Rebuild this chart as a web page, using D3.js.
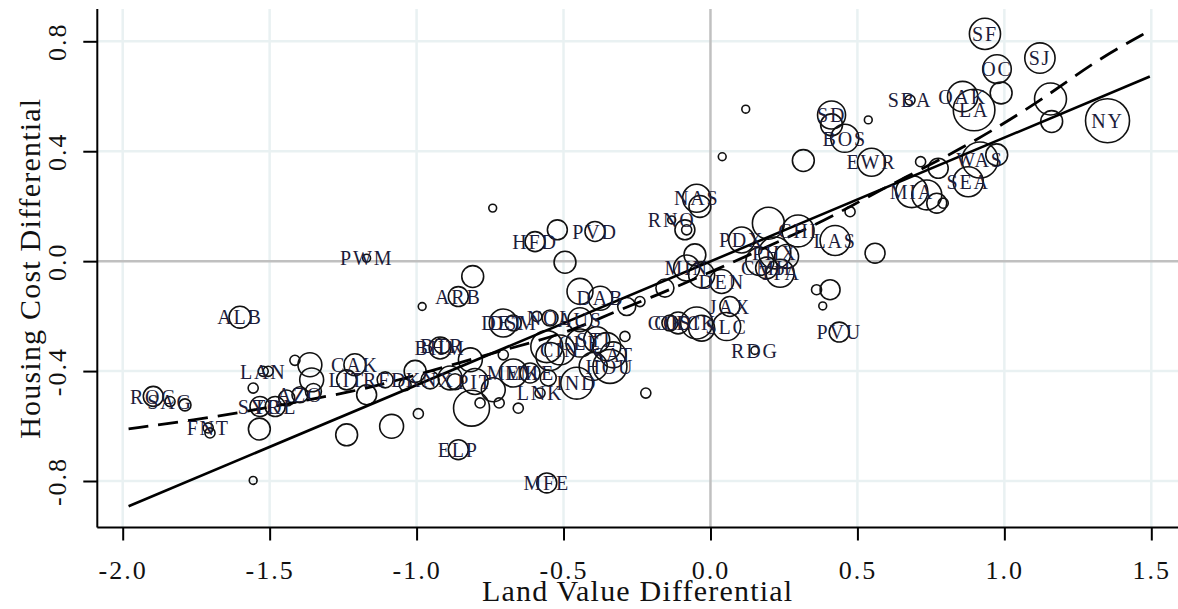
<!DOCTYPE html>
<html>
<head>
<meta charset="utf-8">
<script src="https://cdn.jsdelivr.net/npm/d3@7"></script>
<style>
  body { margin: 0; background: #fff; }
  svg { display: block; }
  .grid line { stroke: #e9f1f2; stroke-width: 2.5; }
  .zero { stroke: #c0c0c0; stroke-width: 2.5; }
  .axis path, .axis line { stroke: #000; stroke-width: 2; }
  .axis text { font-family: "Liberation Serif", "Times New Roman", serif; font-size: 26px; fill: #111; letter-spacing: 2px; }
  .title { font-family: "Liberation Serif", "Times New Roman", serif; font-size: 30px; fill: #111; letter-spacing: 1.2px; }
  .city { fill: none; stroke: #111; stroke-width: 1.6; }
  .lbl { font-family: "Liberation Serif", "Times New Roman", serif; font-size: 20px; fill: #1c1c3a; letter-spacing: 1.8px; }
</style>
</head>
<body>
<div id="chart"></div>
<script>
// metro areas: land value differential vs housing cost differential
var cityLabel = ["SF","SJ","OC","OAK","LA","","SBA","","","NY",
  "SD","","","BOS","EWR","","","","WAS","",
  "SEA","MIA","","","","","LAS","CHI","","",
  "","PVU","","NAS","","RNO","","","","MIN",
  "","DEN","","JAX","SLC","DIK","OKC","COS","","RDG",
  "PDX","","PHX","","TPA","","CMH","HFD","","PVD",
  "","","","ARB","","","DAB","","","AUS",
  "DET","DSM","","NOL","BHM","BTR","","","","PIT",
  "","","","","","","MEM","MKE","","LNK",
  "IND","HOU","","","CIN","CLE","STL","","SAT","",
  "","","","","ELP","MFE","ROC","SAG","","FNT",
  "","","SYR","TOL","","AZO","","","LAN","",
  "","","","CAK","LIT","","","","ALB","PWM",
  "RFD","","KNX","","",""];
var landValue = [0.934,1.121,0.975,0.858,0.897,0.989,0.679,1.157,1.161,1.351,
  0.412,0.412,0.537,0.457,0.548,0.316,0.715,0.775,0.917,0.974,
  0.877,0.685,0.736,0.770,0.792,0.560,0.424,0.298,0.361,0.407,
  0.382,0.438,0.475,-0.047,-0.036,-0.132,-0.087,-0.081,-0.053,-0.081,
  -0.030,0.038,-0.155,0.066,0.055,-0.047,-0.110,-0.138,-0.030,0.151,
  0.106,0.197,0.219,0.168,0.237,0.259,0.191,-0.597,-0.521,-0.393,
  -0.741,-0.495,-0.809,-0.858,-0.981,-0.444,-0.375,-0.285,-0.240,-0.444,
  -0.705,-0.671,-0.591,-0.546,-0.920,-0.913,-0.817,-0.886,-1.005,-0.801,
  -0.739,-0.813,-0.784,-0.719,-0.654,-0.705,-0.671,-0.614,-0.552,-0.580,
  -0.455,-0.342,-0.399,-0.557,-0.512,-0.444,-0.387,-0.353,-0.331,-0.291,
  -0.546,-0.220,-1.085,-0.994,-0.858,-0.557,-1.896,-1.839,-1.788,-1.709,
  -1.703,-1.535,-1.533,-1.481,-1.442,-1.397,-1.351,-1.556,-1.522,-1.505,
  -1.414,-1.363,-1.357,-1.210,-1.238,-1.170,-1.238,-1.556,-1.601,-1.170,
  -1.107,-1.039,-0.954,-0.869,0.120,0.040];
var housingCost = [0.827,0.739,0.699,0.599,0.550,0.612,0.586,0.590,0.508,0.511,
  0.532,0.496,0.514,0.447,0.360,0.366,0.362,0.338,0.368,0.387,
  0.289,0.253,0.241,0.211,0.211,0.029,0.075,0.110,-0.104,-0.104,
  -0.163,-0.258,0.180,0.229,0.199,0.150,0.114,0.114,0.023,-0.025,
  -0.050,-0.074,-0.098,-0.165,-0.238,-0.225,-0.225,-0.225,-0.244,-0.325,
  0.077,0.138,0.030,-0.001,-0.044,0.017,-0.025,0.071,0.114,0.108,
  0.193,-0.004,-0.056,-0.129,-0.165,-0.110,-0.135,-0.165,-0.147,-0.213,
  -0.225,-0.225,-0.201,-0.207,-0.316,-0.308,-0.359,-0.425,-0.401,-0.438,
  -0.468,-0.535,-0.516,-0.516,-0.535,-0.341,-0.407,-0.407,-0.425,-0.480,
  -0.444,-0.383,-0.383,-0.311,-0.323,-0.298,-0.286,-0.311,-0.341,-0.274,
  -0.347,-0.480,-0.601,-0.555,-0.686,-0.807,-0.492,-0.511,-0.523,-0.607,
  -0.625,-0.611,-0.529,-0.529,-0.498,-0.486,-0.474,-0.462,-0.401,-0.401,
  -0.361,-0.377,-0.432,-0.377,-0.432,-0.486,-0.632,-0.798,-0.204,0.011,
  -0.432,-0.450,-0.432,-0.439,0.553,0.380];
var population = [9.5,9,8,9,17,4.7,1.0,10,4.7,19,
  7.7,4.7,0.6,7.7,7.7,4.7,1.0,3.9,12.7,4.7,
  8.8,10,8.8,3.9,1.0,3.9,8.8,10,1.0,3.9,
  0.6,3.9,1.0,7.7,4.7,0.6,3.9,1.0,4.7,6.6,
  6.6,5.6,3.2,3.9,7.7,10,4.7,2.5,6.6,0.6,
  6.6,10,10,7.7,7.7,5.6,4.7,3.9,3.9,3.9,
  0.6,4.7,4.7,3.9,0.6,6.6,5.6,3.2,1.0,5.6,
  7.7,2.5,1.0,2.5,4.7,2.5,5.6,5.6,4.7,6.6,
  5.6,12.7,1.0,1.0,1.0,1.0,7.7,3.9,2.5,1.0,
  10,11.3,7.7,10,8.8,7.7,6.6,7.7,6.6,1.0,
  7.7,1.0,5.6,1.0,3.9,3.9,3.9,1.0,1.4,1.0,
  1.0,4.7,3.9,3.9,2.5,2.5,2.5,1.0,1.0,1.0,
  1.0,5.6,5.6,4.7,3.9,3.9,4.7,0.6,4.7,0.6,
  2.5,1.4,3.2,2.5,0.6,0.6];

// fitted lines
var fitX = [-1.98, 1.495];
var fitY = [-0.892, 0.672];
var lowessX = [-1.98,-1.75,-1.58,-1.40,-1.215,-1.056,-0.68,-0.49,-0.31,-0.195,-0.127,0.032,0.157,0.395,0.577,0.815,0.974,1.144,1.314,1.495];
var lowessY = [-0.61,-0.577,-0.547,-0.511,-0.474,-0.432,-0.316,-0.262,-0.177,-0.129,-0.098,-0.025,0.035,0.150,0.259,0.387,0.484,0.599,0.732,0.839];

var xTicks = [-2.0,-1.5,-1.0,-0.5,0.0,0.5,1.0,1.5];
var yTicks = [-0.8,-0.4,0.0,0.4,0.8];

var width = 1178, height = 609;
var svg = d3.select("#chart").append("svg").attr("width", width).attr("height", height);

var x = d3.scaleLinear().domain([-2, 1.5]).range([122.7, 1151.3]);
var y = d3.scaleLinear().domain([-0.8, 0.8]).range([481, 41.3]);
var r = d3.scaleSqrt().domain([0, 19]).range([0, 22]);

var plotLeft = 97.3, plotRight = width + 5, plotTop = 9, plotBottom = 527.5;
var fmt = function(d) { return d.toFixed(1); };

// grid
var grid = svg.append("g").attr("class", "grid");
grid.selectAll(".gx").data(xTicks.filter(function(d) { return d !== 0; }))
  .enter().append("line")
  .attr("x1", function(d) { return x(d); }).attr("x2", function(d) { return x(d); })
  .attr("y1", plotTop).attr("y2", plotBottom);
grid.selectAll(".gy").data(yTicks.filter(function(d) { return d !== 0; }))
  .enter().append("line")
  .attr("x1", plotLeft).attr("x2", plotRight)
  .attr("y1", function(d) { return y(d); }).attr("y2", function(d) { return y(d); });

svg.append("line").attr("class", "zero")
  .attr("x1", x(0)).attr("x2", x(0)).attr("y1", plotTop).attr("y2", plotBottom);
svg.append("line").attr("class", "zero")
  .attr("x1", plotLeft).attr("x2", plotRight).attr("y1", y(0)).attr("y2", y(0));

var data = cityLabel.map(function(l, i) {
  return { label: l, lv: landValue[i], hc: housingCost[i], pop: population[i] };
});

svg.append("g").selectAll("circle")
  .data(data).enter().append("circle")
  .attr("class", "city")
  .attr("cx", function(d) { return x(d.lv); })
  .attr("cy", function(d) { return y(d.hc); })
  .attr("r", function(d) { return r(d.pop); });

// regression line
svg.append("path")
  .datum(d3.zip(fitX, fitY))
  .attr("fill", "none").attr("stroke", "#000").attr("stroke-width", 2.6)
  .attr("d", d3.line().x(function(d) { return x(d[0]); }).y(function(d) { return y(d[1]); }));

// lowess
svg.append("path")
  .datum(d3.zip(lowessX, lowessY))
  .attr("fill", "none").attr("stroke", "#000").attr("stroke-width", 2.8)
  .attr("stroke-dasharray", "20,10")
  .attr("d", d3.line().curve(d3.curveBasis).x(function(d) { return x(d[0]); }).y(function(d) { return y(d[1]); }));

svg.append("g").selectAll("text")
  .data(data.filter(function(d) { return d.label; })).enter().append("text")
  .attr("class", "lbl")
  .attr("x", function(d) { return x(d.lv); })
  .attr("y", function(d) { return y(d.hc); })
  .attr("dy", "0.36em")
  .attr("text-anchor", "middle")
  .text(function(d) { return d.label; });

// axes
var xAxis = svg.append("g").attr("class", "axis")
  .attr("transform", "translate(0," + plotBottom + ")")
  .call(d3.axisBottom(x).tickValues(xTicks).tickFormat(fmt).tickSizeInner(13).tickSizeOuter(0).tickPadding(20));
xAxis.select(".domain").attr("d", "M" + plotLeft + ",0H" + plotRight);
xAxis.selectAll("text").attr("dy", "0.71em");

var yAxis = svg.append("g").attr("class", "axis")
  .attr("transform", "translate(" + plotLeft + ",0)")
  .call(d3.axisLeft(y).tickValues(yTicks).tickFormat(fmt).tickSizeInner(14).tickSizeOuter(0));
yAxis.select(".domain").attr("d", "M0," + plotTop + "V" + plotBottom);
yAxis.selectAll(".tick text")
  .attr("x", 0).attr("y", 0).attr("dy", 0)
  .attr("text-anchor", "middle")
  .attr("transform", "translate(-31,0) rotate(-90)");

svg.append("text").attr("class", "title")
  .attr("x", (plotLeft + width) / 2).attr("y", 601)
  .attr("text-anchor", "middle")
  .text("Land Value Differential");

svg.append("text").attr("class", "title")
  .attr("transform", "translate(40," + ((plotTop + plotBottom) / 2) + ") rotate(-90)")
  .attr("text-anchor", "middle")
  .text("Housing Cost Differential");
</script>
</body>
</html>
